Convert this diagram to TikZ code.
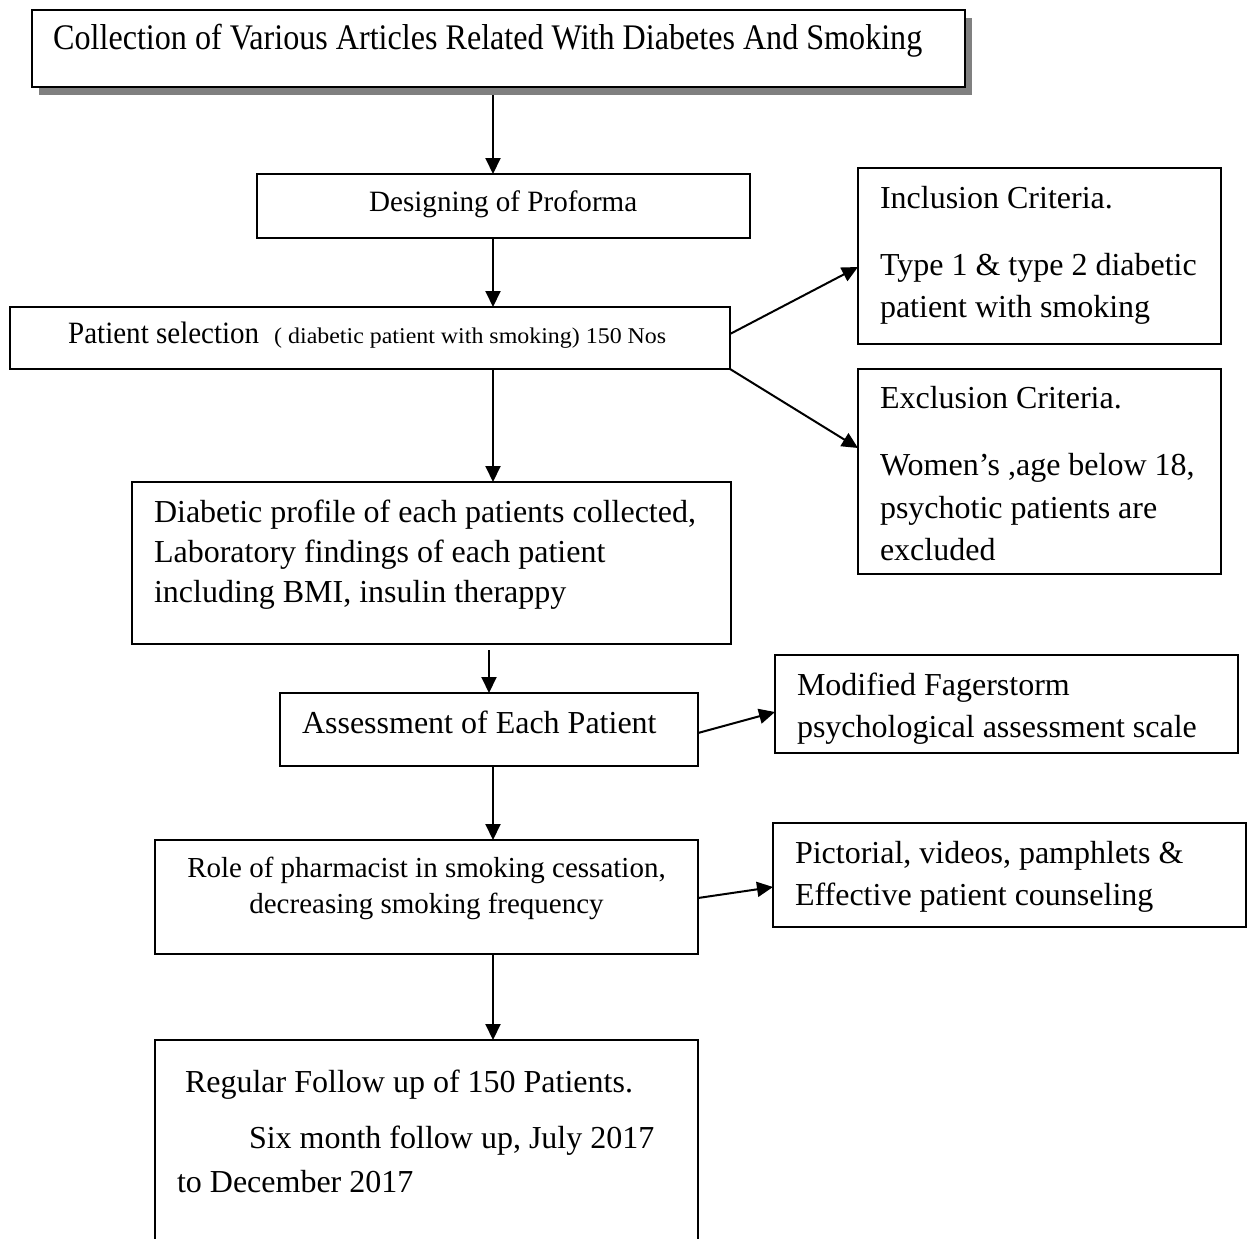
\documentclass[tikz,border=0pt]{standalone}
\usepackage{fontspec}
\setmainfont{Liberation Serif}
\usetikzlibrary{arrows.meta}
\begin{document}
\begin{tikzpicture}[x=1pt,y=-1pt,
  box/.style={draw, fill=white, line width=2pt, inner sep=0pt, outer sep=0pt, anchor=north west},
  arr/.style={line width=2pt, -{Triangle[length=16pt,width=15pt]}},
  txt/.style={anchor=base west, inner sep=0pt, outer sep=0pt, font=\fontsize{32}{40}\selectfont},
  txts/.style={anchor=base, inner sep=0pt, outer sep=0pt, font=\fontsize{29}{36}\selectfont},
]
\useasboundingbox[fill=white] (0,0) rectangle (1248,1239);
\coordinate (ax) at (493,0);
\coordinate (ay) at (489,0);

% top box with shadow
\fill[black!50] (39,18) rectangle (972,95);
\node[box, line width=2.5pt, minimum width=933pt, minimum height=77pt] (b1) at (32,10) {};
\node[anchor=base west, inner sep=0pt] (t1) at (53,50)
  {\resizebox{869pt}{\height}{\fontsize{36}{40}\selectfont Collection of Various Articles Related With Diabetes And Smoking}};

% designing
\node[box, minimum width=493pt, minimum height=64pt] (b2) at (257,174) {};
\node[anchor=base west, inner sep=0pt] (t2) at (369,211)
  {\resizebox{268pt}{\height}{\fontsize{29.5}{36}\selectfont Designing of Proforma}};

% patient selection
\node[box, minimum width=720pt, minimum height=62pt] (b3) at (10,307) {};
\node[anchor=base west, inner sep=0pt] (t3a) at (68,343)
  {\resizebox{191pt}{\height}{\fontsize{31}{36}\selectfont Patient selection}};
\node[anchor=base west, inner sep=0pt] (t3b) at (274,343)
  {\resizebox{392pt}{\height}{\fontsize{22.5}{26}\selectfont ( diabetic patient with smoking) 150 Nos}};

% inclusion
\node[box, minimum width=363pt, minimum height=176pt] (bi) at (858,168) {};
\node[txt] (ti1) at (880,208) {Inclusion Criteria.};
\node[txt] (ti2) at (880,275) {Type 1 \& type 2 diabetic};
\node[txt] (ti3) at (880,317) {patient with smoking};

% exclusion
\node[box, minimum width=363pt, minimum height=205pt] (be) at (858,369) {};
\node[txt] (te1) at (880,408) {Exclusion Criteria.};
\node[txt] (te2) at (880,475) {Women’s ,age below 18,};
\node[txt] (te3) at (880,518) {psychotic patients are};
\node[txt] (te4) at (880,560) {excluded};

% diabetic profile
\node[box, minimum width=599pt, minimum height=162pt] (b4) at (132,482) {};
\node[txt] (t4a) at (154,522) {Diabetic profile of each patients collected,};
\node[txt] (t4b) at (154,562) {Laboratory findings of each patient};
\node[txt] (t4c) at (154,602) {including BMI, insulin therappy};

% assessment
\node[box, minimum width=418pt, minimum height=73pt] (b5) at (280,693) {};
\node[txt] (t5) at (302,733) {Assessment of Each Patient};

% fagerstrom
\node[box, minimum width=463pt, minimum height=98pt] (bf) at (775,655) {};
\node[txt] (tf1) at (797,695) {Modified Fagerstorm};
\node[txt] (tf2) at (797,737) {psychological assessment scale};

% role
\node[box, minimum width=543pt, minimum height=114pt] (b6) at (155,840) {};
\node[txts] (t6a) at (426.5,877) {Role of pharmacist in smoking cessation,};
\node[txts] (t6b) at (426.5,913) {decreasing smoking frequency};

% pictorial
\node[box, minimum width=473pt, minimum height=104pt] (bp) at (773,823) {};
\node[txt] (tp1) at (795,863) {Pictorial, videos, pamphlets \&};
\node[txt] (tp2) at (795,905) {Effective patient counseling};

% follow up (open at the bottom of the page)
\node[box, minimum width=543pt, minimum height=240pt] (b7) at (155,1040) {};
\node[txt] (t7a) at (185,1092) {Regular Follow up of 150 Patients.};
\node[txt] (t7b) at (249,1148) {Six month follow up, July 2017};
\node[txt] (t7c) at (177,1192) {to December 2017};

% connectors
\draw[arr] ([yshift=-8pt]ax |- b1.south) -- (ax |- b2.north);
\draw[arr] (ax |- b2.south) -- (ax |- b3.north);
\draw[arr] ([yshift=-27pt]b3.north east) -- ([yshift=-99pt]bi.north west);
\draw[arr] (b3.south east) -- ([yshift=-79pt]be.north west);
\draw[arr] (ax |- b3.south) -- (ax |- b4.north);
\draw[arr] ([yshift=-6pt]ay |- b4.south) -- (ay |- b5.north);
\draw[arr] ([yshift=-40pt]b5.north east) -- ([yshift=-57pt]bf.north west);
\draw[arr] (ax |- b5.south) -- (ax |- b6.north);
\draw[arr] ([yshift=-58pt]b6.north east) -- ([yshift=-64pt]bp.north west);
\draw[arr] (ax |- b6.south) -- (ax |- b7.north);
\end{tikzpicture}
\end{document}
